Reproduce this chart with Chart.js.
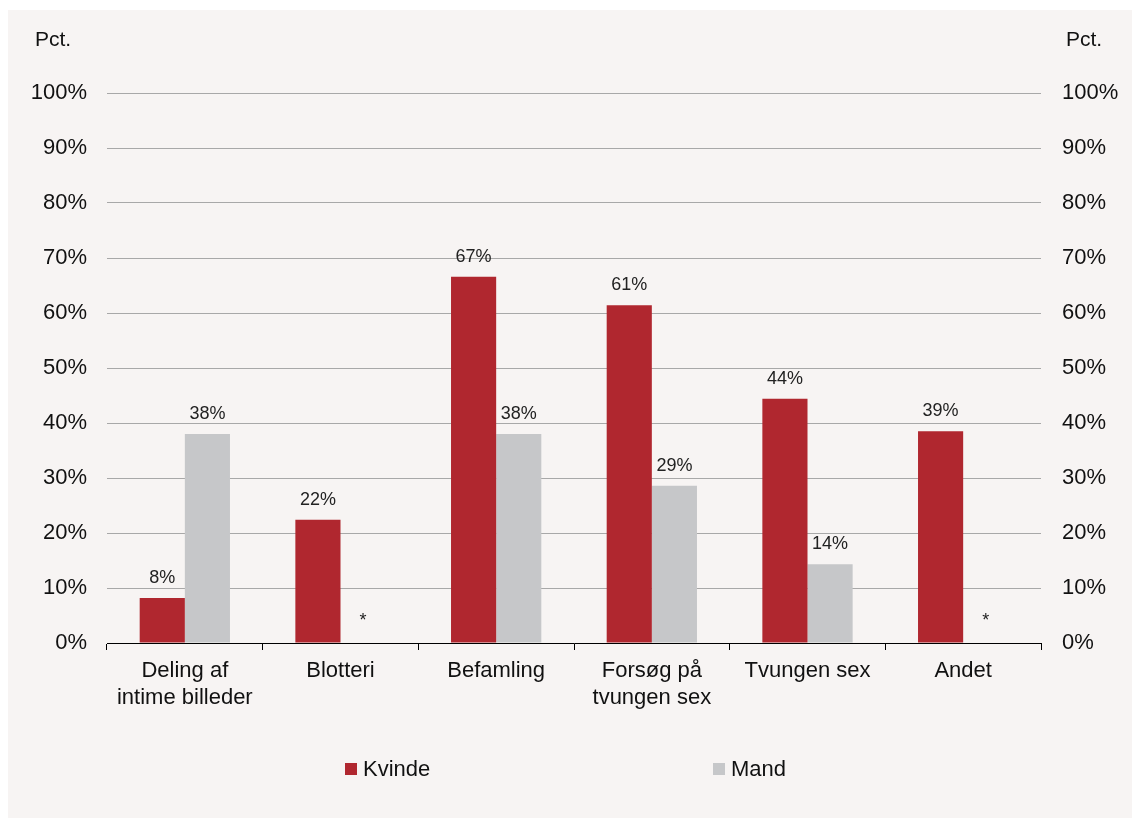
<!DOCTYPE html>
<html>
<head>
<meta charset="utf-8">
<script src="https://cdn.jsdelivr.net/npm/chart.js@4"></script>
<style>
	html, body { margin: 0; padding: 0; background: #ffffff; }
	#wrap { position: absolute; left: 8px; top: 10px; width: 1124px; height: 808px; background: #f7f4f3; }
</style>
</head>
<body>
<div id="wrap"><canvas id="stat" width="1124" height="808"></canvas></div>
<script>
	// data
	const categories = [
		['Deling af', 'intime billeder'],
		'Blotteri',
		'Befamling',
		['Forsøg på', 'tvungen sex'],
		'Tvungen sex',
		'Andet'
	];
	const kvinde = [8.2, 22.4, 66.6, 61.4, 44.4, 38.5];
	const mand = [38, null, 38, 28.6, 14.3, null]; // null = * (for få svar)
	const yTicks = [0, 10, 20, 30, 40, 50, 60, 70, 80, 90, 100];

	const font = 'Liberation Sans, Arial, sans-serif';

	// value labels over bars, * where no value
	const barLabels = {
		id: 'barLabels',
		afterDatasetsDraw(chart) {
			let ctx = chart.ctx;
			let y0 = chart.scales.y.getPixelForValue(0);
			ctx.save();
			ctx.fillStyle = '#222';
			ctx.textAlign = 'center';
			chart.data.datasets.forEach((ds, i) => {
				chart.getDatasetMeta(i).data.forEach((bar, j) => {
					let v = ds.data[j];
					ctx.font = '18px ' + font;
					if (v === null) {
						ctx.textBaseline = 'middle';
						ctx.fillText('*', bar.x, y0 - 22);
					} else {
						ctx.textBaseline = 'bottom';
						ctx.fillText(Math.round(v) + '%', bar.x, bar.y - 11);
					}
				});
			});
			ctx.restore();
		}
	};

	// "Pct." over both axes + wide legend at the bottom
	const extras = {
		id: 'extras',
		afterDraw(chart) {
			let ctx = chart.ctx;
			ctx.save();
			ctx.fillStyle = '#111';
			ctx.font = '21px ' + font;
			ctx.textBaseline = 'middle';
			ctx.textAlign = 'left';
			ctx.fillText('Pct.', 27, 30);
			ctx.fillText('Pct.', 1058, 30);

			let xs = [337, 705];
			chart.data.datasets.forEach((ds, i) => {
				ctx.fillStyle = ds.backgroundColor;
				ctx.fillRect(xs[i], 753, 12, 12);
				ctx.fillStyle = '#111';
				ctx.font = '22px ' + font;
				ctx.fillText(ds.label, xs[i] + 18, 760);
			});
			ctx.restore();
		}
	};

	const tickFont = { family: font, size: 22 };

	new Chart(
		document.getElementById('stat'),
		{
			type: 'bar',
			data: {
				labels: categories,
				datasets: [
					{
						label: 'Kvinde',
						data: kvinde,
						backgroundColor: '#b0272f',
						barPercentage: 1,
						categoryPercentage: 0.58
					},
					{
						label: 'Mand',
						data: mand,
						backgroundColor: '#c6c7c9',
						barPercentage: 1,
						categoryPercentage: 0.58
					}
				]
			},
			options: {
				responsive: false,
				animation: false,
				layout: { padding: { top: 83, bottom: 0, left: 0, right: 0 } },
				plugins: {
					legend: { display: false },
					tooltip: { enabled: false }
				},
				scales: {
					x: {
						offset: true,
						grid: {
							offset: true,
							drawOnChartArea: false,
							drawTicks: true,
							tickLength: 7,
							color: '#000'
						},
						border: { display: true, color: '#000', width: 1 },
						ticks: { font: tickFont, color: '#111', padding: 8, maxRotation: 0 },
						afterFit(scale) { scale.height = 175; }
					},
					y: {
						min: 0,
						max: 100,
						afterBuildTicks(scale) { scale.ticks = yTicks.map(v => ({ value: v })); },
						grid: { color: '#a8a8a8', drawTicks: false },
						border: { display: false },
						ticks: {
							font: tickFont,
							color: '#111',
							padding: 20,
							callback: v => v + '%'
						},
						afterFit(scale) { scale.width = 99; }
					},
					y2: {
						position: 'right',
						min: 0,
						max: 100,
						afterBuildTicks(scale) { scale.ticks = yTicks.map(v => ({ value: v })); },
						grid: { display: false, drawTicks: false },
						border: { display: false },
						ticks: {
							font: tickFont,
							color: '#111',
							padding: 21,
							callback: v => v + '%'
						},
						afterFit(scale) { scale.width = 91; }
					}
				}
			},
			plugins: [barLabels, extras]
		}
	);
</script>
</body>
</html>
